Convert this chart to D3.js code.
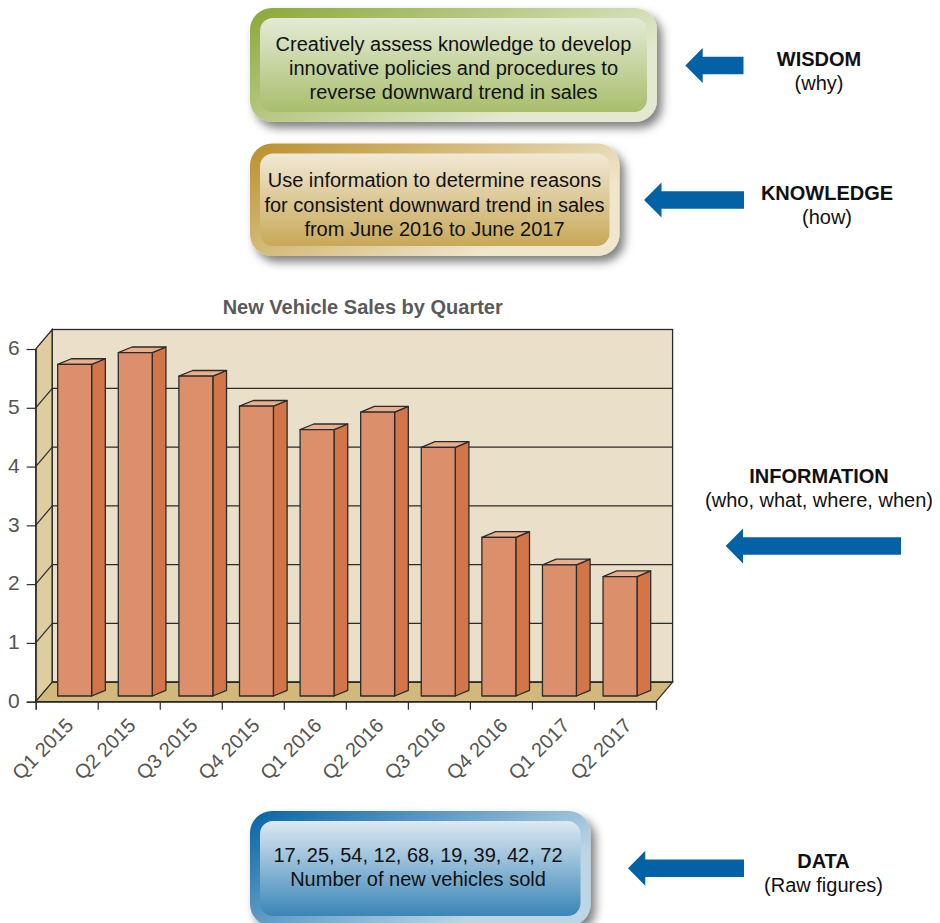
<!DOCTYPE html>
<html>
<head>
<meta charset="utf-8">
<script src="https://cdn.jsdelivr.net/npm/d3@7"></script>
<style>
  html, body { margin: 0; padding: 0; background: #fff; }
  svg { display: block; font-family: "Liberation Sans", Arial, sans-serif; }
</style>
</head>
<body>
<div id="chart"></div>
<script>
// chart values
var quarters = ["Q1 2015", "Q2 2015", "Q3 2015", "Q4 2015", "Q1 2016", "Q2 2016", "Q3 2016", "Q4 2016", "Q1 2017", "Q2 2017"];
var sales = [5.64, 5.84, 5.44, 4.93, 4.53, 4.83, 4.23, 2.7, 2.23, 2.03];
var yTicks = [0, 1, 2, 3, 4, 5, 6];

// pyramid text
var wisdomLines = ["Creatively assess knowledge to develop", "innovative policies and procedures to", "reverse downward trend in sales"];
var knowledgeLines = ["Use information to determine reasons", "for consistent downward trend in sales", "from June 2016 to June 2017"];
var dataLines = ["17, 25, 54, 12, 68, 19, 39, 42, 72", "Number of new vehicles sold"];

var width = 940, height = 923;

var svg = d3.select("#chart").append("svg")
    .attr("width", width)
    .attr("height", height);

var defs = svg.append("defs");

var shadow = defs.append("filter").attr("id", "shadow")
    .attr("x", "-10%").attr("y", "-10%").attr("width", "125%").attr("height", "135%");
shadow.append("feDropShadow")
    .attr("dx", 5).attr("dy", 6).attr("stdDeviation", 5)
    .attr("flood-color", "#000").attr("flood-opacity", 0.5);

function gradient(id, c1, c2, diagonal) {
    var g = defs.append("linearGradient").attr("id", id)
        .attr("x1", 0).attr("y1", diagonal ? 0.1 : 0)
        .attr("x2", diagonal ? 0.85 : 0).attr("y2", diagonal ? 0.6 : 1);
    g.append("stop").attr("offset", "0%").attr("stop-color", c1);
    g.append("stop").attr("offset", "100%").attr("stop-color", c2);
}

gradient("greenOuter", "#8fab3e", "#e3e9d0", true);
gradient("greenInner", "#e4ebd6", "#a8be6c", false);
gradient("goldOuter", "#bd9433", "#efe6cc", true);
gradient("goldInner", "#f1e9d6", "#c8a858", false);
gradient("blueOuter", "#0f69a8", "#bdd6e6", true);
gradient("blueInner", "#dde9f2", "#3a85b8", false);

// rounded box with a text block
function box(x0, x1, y0, y1, name, lines, cx, baselines) {
    var g = svg.append("g");
    g.append("rect")
        .attr("x", x0).attr("y", y0)
        .attr("width", x1 - x0).attr("height", y1 - y0)
        .attr("rx", 22).attr("ry", 22)
        .attr("fill", "url(#" + name + "Outer)")
        .attr("filter", "url(#shadow)");
    g.append("rect")
        .attr("x", x0 + 10).attr("y", y0 + 10)
        .attr("width", x1 - x0 - 20).attr("height", y1 - y0 - 20)
        .attr("rx", 13).attr("ry", 13)
        .attr("fill", "url(#" + name + "Inner)");
    g.selectAll("text").data(lines).enter().append("text")
        .attr("x", cx)
        .attr("y", function (d, i) { return baselines[i]; })
        .attr("text-anchor", "middle")
        .attr("font-size", 20)
        .attr("fill", "#111")
        .text(function (d) { return d; });
}

box(250, 657, 8, 122, "green", wisdomLines, 453.5, [50.5, 74.5, 98.5]);
box(250, 619.5, 143.5, 256, "gold", knowledgeLines, 434.5, [187, 211.5, 236]);
box(250, 590.5, 811, 926, "blue", dataLines, 418, [861.5, 885.5]);

// blue arrows pointing left
function arrow(tip, base, tail, cy) {
    var p = d3.path();
    p.moveTo(tip, cy);
    p.lineTo(base, cy - 17.5);
    p.lineTo(base, cy - 8.8);
    p.lineTo(tail, cy - 8.8);
    p.lineTo(tail, cy + 8.8);
    p.lineTo(base, cy + 8.8);
    p.lineTo(base, cy + 17.5);
    p.closePath();
    svg.append("path").attr("d", p.toString()).attr("fill", "#0362a6");
}

arrow(685.3, 702.7, 743.5, 65.5);
arrow(644, 661.5, 744, 200);
arrow(725.7, 743, 901, 546);
arrow(628, 645.3, 744, 868.3);

function sideLabel(cx, y, head, sub) {
    svg.append("text").attr("x", cx).attr("y", y)
        .attr("text-anchor", "middle").attr("font-size", 20)
        .attr("font-weight", "bold").attr("fill", "#111").text(head);
    svg.append("text").attr("x", cx).attr("y", y + 24.3)
        .attr("text-anchor", "middle").attr("font-size", 20)
        .attr("fill", "#111").text(sub);
}

sideLabel(819, 65.5, "WISDOM", "(why)");
sideLabel(827, 200, "KNOWLEDGE", "(how)");
sideLabel(819, 483, "INFORMATION", "(who, what, where, when)");
sideLabel(823.5, 867.5, "DATA", "(Raw figures)");

// 3d chart
var depthX = 16.6, depthY = -19.5;
var barDepthX = 13.7, barDepthY = -5.7, barLift = -5.7;

var y = d3.scaleLinear().domain([0, 6]).range([701.7, 349]);
var xBand = d3.scaleBand().domain(quarters).range([35.7, 656]);
var xEdge = d3.scaleLinear().domain([0, quarters.length]).range([35.7, 656]);
var barX = d3.scaleBand().domain(quarters).range([57.7, 637]).paddingInner(0.44);

var lineColor = "#2b2b2b";
var chart = svg.append("g");

chart.append("text")
    .attr("x", 362.7).attr("y", 314)
    .attr("text-anchor", "middle")
    .attr("font-size", 20).attr("font-weight", "bold")
    .attr("fill", "#5a5a5a")
    .text("New Vehicle Sales by Quarter");

var x0 = xEdge(0), x1 = xEdge(quarters.length);

// left wall
chart.append("polygon")
    .attr("points", [[x0, y(0)], [x0, y(6)], [x0 + depthX, y(6) + depthY], [x0 + depthX, y(0) + depthY]].join(" "))
    .attr("fill", "#dfcda0").attr("stroke", lineColor).attr("stroke-width", 1.2);
// floor
chart.append("polygon")
    .attr("points", [[x0, y(0)], [x1, y(0)], [x1 + depthX, y(0) + depthY], [x0 + depthX, y(0) + depthY]].join(" "))
    .attr("fill", "#d2b87a").attr("stroke", lineColor).attr("stroke-width", 1.2);
// back wall
chart.append("rect")
    .attr("x", x0 + depthX).attr("y", y(6) + depthY)
    .attr("width", x1 - x0).attr("height", y(0) - y(6))
    .attr("fill", "#eae0c9").attr("stroke", lineColor).attr("stroke-width", 1.3);

// gridlines on both walls
var grid = chart.append("g").attr("stroke", lineColor).attr("stroke-width", 1.2);
grid.selectAll(".back").data(yTicks.slice(0, 6)).enter().append("line")
    .attr("x1", x0 + depthX).attr("x2", x1 + depthX)
    .attr("y1", function (d) { return y(d) + depthY; })
    .attr("y2", function (d) { return y(d) + depthY; })
    .attr("stroke-width", function (d) { return d === 0 ? 1.8 : 1.2; });
grid.selectAll(".side").data(yTicks.slice(1, 6)).enter().append("line")
    .attr("x1", x0).attr("x2", x0 + depthX)
    .attr("y1", function (d) { return y(d); })
    .attr("y2", function (d) { return y(d) + depthY; });

// bars: side, top, front
var bars = chart.selectAll(".bar").data(quarters).enter().append("g")
    .attr("class", "bar")
    .attr("stroke", lineColor).attr("stroke-width", 1.3).attr("stroke-linejoin", "round");

function barTop(i) { return y(sales[i]) + barLift; }
var barBase = y(0) + barLift;
var bw = barX.bandwidth();

bars.append("polygon")
    .attr("fill", "#d27548")
    .attr("points", function (d, i) {
        var l = barX(d) + bw;
        return [[l, barTop(i)], [l + barDepthX, barTop(i) + barDepthY], [l + barDepthX, barBase + barDepthY], [l, barBase]].join(" ");
    });
bars.append("polygon")
    .attr("fill", "#e9ae8c")
    .attr("points", function (d, i) {
        var l = barX(d);
        return [[l, barTop(i)], [l + barDepthX, barTop(i) + barDepthY], [l + bw + barDepthX, barTop(i) + barDepthY], [l + bw, barTop(i)]].join(" ");
    });
bars.append("rect")
    .attr("fill", "#dc8f6b")
    .attr("x", function (d) { return barX(d); })
    .attr("y", function (d, i) { return barTop(i); })
    .attr("width", bw)
    .attr("height", function (d, i) { return barBase - barTop(i); });

// y axis
var yAxis = chart.append("g")
    .attr("transform", "translate(" + x0 + ",0)")
    .call(d3.axisLeft(y).tickValues(yTicks).tickSize(9).tickPadding(7).tickFormat(d3.format("d")));
yAxis.select(".domain").attr("stroke", lineColor).attr("stroke-width", 1.2);
yAxis.selectAll("line").attr("stroke", lineColor).attr("stroke-width", 1.2);
yAxis.selectAll("text").attr("font-size", 21).attr("font-family", "Liberation Sans").attr("fill", "#555")
    .attr("dy", "0.27em");

// x axis: ticks sit on category edges
var xTicks = chart.append("g")
    .attr("transform", "translate(0," + y(0) + ")")
    .call(d3.axisBottom(xEdge).ticks(quarters.length).tickSize(8).tickFormat(""));
xTicks.select(".domain").attr("stroke", lineColor).attr("stroke-width", 1.2);
xTicks.selectAll("line").attr("stroke", lineColor).attr("stroke-width", 1.2);

var xLabels = chart.append("g")
    .attr("transform", "translate(0," + y(0) + ")")
    .call(d3.axisBottom(xBand).tickSize(0).tickPadding(0));
xLabels.select(".domain").remove();
xLabels.selectAll("text")
    .attr("font-size", 20).attr("font-family", "Liberation Sans").attr("fill", "#555")
    .attr("text-anchor", "end").attr("dy", 0).attr("y", 0)
    .attr("transform", "translate(8,25)rotate(-45)");
</script>
</body>
</html>
